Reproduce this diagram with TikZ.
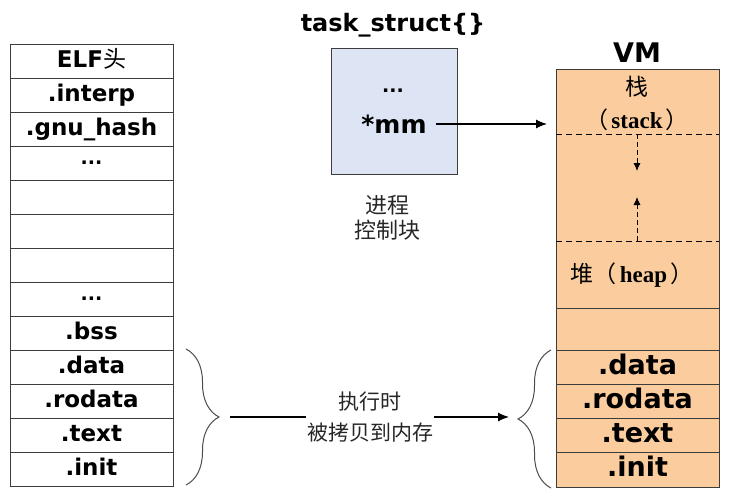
\documentclass[tikz,border=0pt]{standalone}
\usepackage{fontspec}
\setmainfont{DejaVu Sans}
\newfontfamily\cjk{Noto Sans CJK SC}
\newfontfamily\serifb{Liberation Serif}
\usetikzlibrary{arrows.meta,decorations.pathreplacing}
\definecolor{peach}{RGB}{251,204,157}
\definecolor{paleblue}{RGB}{221,228,243}
\definecolor{edge}{RGB}{60,60,60}
\begin{document}
\begin{tikzpicture}[x=1pt,y=-1pt,
  cell/.style={draw=edge, line width=0.9pt, minimum width=163pt, minimum height=34pt, inner sep=0pt,
    text height=17pt, text depth=5pt, font=\fontsize{23}{23}\selectfont\bfseries},
  dotcell/.style={cell, text height=, text depth=, font=\fontsize{19}{19}\selectfont\bfseries},
  vmcell/.style={cell, fill=peach, text height=20pt, text depth=6pt, font=\fontsize{27}{27}\selectfont\bfseries},
  cjklabel/.style={inner sep=0pt, text=black!85, font=\fontsize{22}{25}\selectfont\cjk, align=center},
  vmlabel/.style={inner sep=0pt, font=\fontsize{23}{23}\selectfont},
  arr/.style={line width=1.1pt, -{Latex[length=11pt,width=9pt]}},
  dashln/.style={line width=0.8pt, dash pattern=on 6pt off 4pt},
  darr/.style={line width=0.8pt, dash pattern=on 5pt off 3pt, -{Latex[length=8pt,width=7pt]}},
  bracestyle/.style={line width=1pt, draw=black!70, decorate, decoration={brace, amplitude=33pt}}
]
\useasboundingbox (0,0) rectangle (729,498);

% ---------- ELF file (left column) ----------
\node[cell] (l1)  at (91.5,61)  {ELF{\cjk\mdseries 头}};
\node[cell] (l2)  at (91.5,95)  {.interp};
\node[cell] (l3)  at (91.5,129) {.gnu\_hash};
\node[dotcell] (l4)  at (91.5,163) {...};
\node[cell] (l5)  at (91.5,197) {};
\node[cell] (l6)  at (91.5,231) {};
\node[cell] (l7)  at (91.5,265) {};
\node[dotcell] (l8)  at (91.5,299) {...};
\node[cell] (l9)  at (91.5,333) {.bss};
\node[cell] (l10) at (91.5,367) {.data};
\node[cell] (l11) at (91.5,401) {.rodata};
\node[cell] (l12) at (91.5,435) {.text};
\node[cell] (l13) at (91.5,469) {.init};

% ---------- task_struct ----------
\node[inner sep=0pt, font=\fontsize{24}{24}\selectfont\bfseries] (tt) at (393,25) {task\_struct\{\}};
\node[draw=edge, line width=0.9pt, fill=paleblue, minimum width=126pt, minimum height=126pt] (tsk) at (394,111) {};
\node[inner sep=0pt, font=\fontsize{19}{19}\selectfont\bfseries] (tdots) at (393,91) {...};
\node[inner sep=0pt, font=\fontsize{25}{25}\selectfont\bfseries] (mm) at (394,124) {*mm};
\node[cjklabel] (pcb) at (387,218) {进程\\控制块};

% ---------- VM (right column) ----------
\node[inner sep=0pt, font=\fontsize{27}{27}\selectfont\bfseries] (vmt) at (637,53) {VM};
\node[vmcell, minimum height=239pt] (vtop) at (637.5,188.5) {};
\node[vmcell, minimum height=42pt] (v2) at (637.5,329) {};
\node[vmcell] (v3) at (637.5,367) {.data};
\node[vmcell] (v4) at (637.5,401) {.rodata};
\node[vmcell] (v5) at (637.5,435) {.text};
\node[vmcell, minimum height=35pt] (v6) at (637.5,469.5) {.init};

\node[vmlabel, font=\fontsize{23}{23}\selectfont\cjk] (zhan) at (637,87) {栈};
\node[vmlabel] (stk) at (637,120) {{\cjk （}\hspace{3pt}{\serifb\bfseries stack}\hspace{3pt}{\cjk ）}};
\node[vmlabel] (heap) at (632,275) {{\cjk 堆（}\hspace{3pt}{\serifb\bfseries heap}\hspace{3pt}{\cjk ）}};

\coordinate (sA) at (556,134);
\coordinate (sB) at (719,134);
\coordinate (hA) at (556,241);
\coordinate (hB) at (719,241);
\draw[dashln] (sA) -- (sB);
\draw[dashln] (hA) -- (hB);
\coordinate (sm) at (637,134);
\coordinate (hm) at (637,241);
\coordinate (sdn) at (637,171);
\coordinate (hup) at (637,197);
\draw[darr] (sm) -- (sdn);
\draw[darr] (hm) -- (hup);

% ---------- pointer arrow ----------
\coordinate (vin) at (547,0);
\draw[arr, shorten <=9pt] (mm.east) -- (mm.east -| vin);

% ---------- braces & copy arrow ----------
\coordinate (lb1) at (186,349);
\coordinate (lb2) at (186,485);
\draw[bracestyle] (lb1) -- (lb2);
\coordinate (rb1) at (551,488);
\coordinate (rb2) at (551,350);
\draw[bracestyle] (rb1) -- (rb2);

\node[cjklabel, font=\fontsize{21}{31}\selectfont\cjk, inner sep=1pt] (cp) at (370,417) {执行时\\被拷贝到内存};
\coordinate (bl) at (230,417);
\coordinate (br) at (509,417);
\draw[line width=1.1pt] (bl) -- (cp.west);
\draw[arr] (cp.east) -- (br);
\end{tikzpicture}
\end{document}
